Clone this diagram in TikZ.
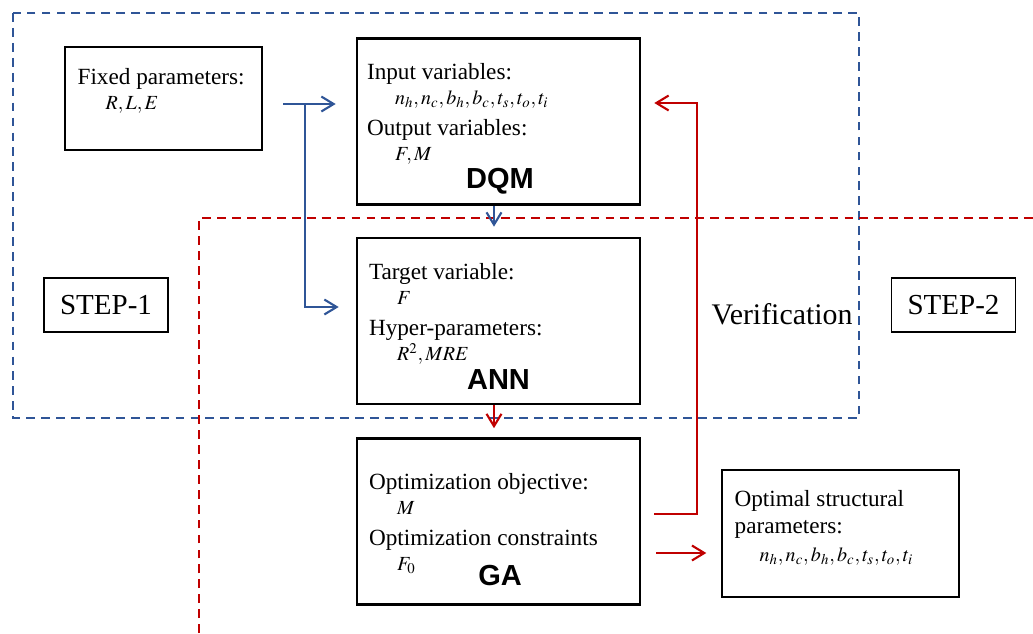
\documentclass[tikz,border=0pt]{standalone}
\usepackage{mathptmx}
\usepackage{fontspec}
\setmainfont{Liberation Serif}
\newfontfamily\tagfont{Liberation Sans}
\usetikzlibrary{arrows.meta,calc}

\definecolor{stepblue}{RGB}{47,85,151}
\definecolor{stepred}{RGB}{192,0,0}

% variables are set a little smaller than the text
\newcommand\mvar[1]{{\fontsize{11.4}{14.2}\selectfont$#1$}}

\tikzset{
    box/.style={draw,line width=1.5pt,minimum width=5.66cm,minimum height=3.32cm,inner sep=0pt},
    thinbox/.style={draw,line width=0.8pt,inner sep=0pt},
    stepbox/.style={draw,line width=1.1pt,minimum width=2.48cm,minimum height=1.08cm,inner sep=0pt,font=\fontsize{16.5}{18}\selectfont},
    txt/.style={anchor=base west,inner sep=0pt,align=left,font=\fontsize{13.2}{14.2}\selectfont},
    tag/.style={anchor=base,inner sep=0pt,font=\tagfont\bfseries\fontsize{16.5}{18}\selectfont},
    zone/.style={line width=1.1pt,dash pattern=on 5pt off 3.5pt},
    bluearrow/.style={draw=stepblue,line width=1.2pt,-{Straight Barb[length=7pt,width=8.5pt]}},
    redarrow/.style={draw=stepred,line width=1.2pt,-{Straight Barb[length=7pt,width=8.5pt]}}
}

\begin{document}
\begin{tikzpicture}
    \useasboundingbox(0,0)rectangle(20.66,-12.66);

    % the two stages
    \draw[zone,stepblue](0.26,-0.26)rectangle(17.18,-8.36);
    \draw[zone,stepred](3.98,-12.66)--(3.98,-4.36)--(20.66,-4.36);

    \node[thinbox,minimum width=3.94cm,minimum height=2.06cm](fixed)at(3.27,-1.97){};
    \node[box](dqm)at(9.97,-2.43){};
    \node[box](ann)at(9.97,-6.42){};
    \node[box](ga)at(9.97,-10.43){};
    \node[thinbox,minimum width=4.74cm,minimum height=2.54cm](opt)at(16.81,-10.67){};

    \node[stepbox](step1)at(2.12,-6.10){STEP-1};
    \node[stepbox](step2)at(19.07,-6.10){STEP-2};
    \node[inner sep=0pt,font=\fontsize{17}{18}\selectfont](verif)at(15.64,-6.28){Verification};

    % node base = baseline of the last line
    \node[txt](fixed-txt)at($(fixed.north west)+(0.26,-1.26)$){Fixed parameters:\\ \hspace*{0.56cm}\mvar{R,L,E}};
    \node[txt](dqm-txt)at($(dqm.north west)+(0.22,-2.46)$){Input variables:\\ \hspace*{0.56cm}\mvar{n_h,n_c,b_h,b_c,t_s,t_o,t_i}\\[3.4pt] Output variables:\\ \hspace*{0.56cm}\mvar{F,M}};
    \node[txt](ann-txt)at($(ann.north west)+(0.26,-2.48)$){Target variable:\\ \hspace*{0.56cm}\mvar{F}\\[3.4pt] Hyper-parameters:\\ \hspace*{0.56cm}\mvar{R^{2},MRE}};
    \node[txt](ga-txt)at($(ga.north west)+(0.26,-2.66)$){Optimization objective:\\ \hspace*{0.56cm}\mvar{M}\\[3.4pt] Optimization constraints\\ \hspace*{0.56cm}\mvar{F_{0}}};
    \node[txt](opt-txt)at($(opt.north west)+(0.26,-1.84)$){Optimal structural\\[1.5pt] parameters:\\[1.5pt] \hspace*{0.5cm}\mvar{n_h,n_c,b_h,b_c,t_s,t_o,t_i}};

    \node[tag](dqm-tag)at($(dqm.south)+(0.03,0.34)$){DQM};
    \node[tag](ann-tag)at($(ann.south)+(0,0.32)$){ANN};
    \node[tag](ga-tag)at($(ga.south)+(0.03,0.4)$){GA};

    % inputs of the first stage
    \coordinate(bstart)at(5.66,-2.08);
    \coordinate(bsplit)at(6.10,-2.08);
    \draw[bluearrow](bstart)--($(bstart-|dqm.west)+(-0.4,0)$);
    \draw[bluearrow](bsplit)|-($(ann.west)+(-0.34,0.28)$);
    \draw[bluearrow]($(dqm.south)+(-0.09,0)$)--($(ann.north)+(-0.09,0.2)$);

    % second stage and feedback
    \draw[redarrow]($(ann.south)+(-0.09,0)$)--($(ga.north)+(-0.09,0.18)$);
    \coordinate(vtop)at(13.94,-2.06);
    \draw[redarrow]($(ga.east)+(0.26,0.15)$)-|(vtop)--($(vtop-|dqm.east)+(0.26,0)$);
    \draw[redarrow]($(ga.east)+(0.3,-0.63)$)--($(opt.west)+(-0.3,-0.39)$);
\end{tikzpicture}
\end{document}
